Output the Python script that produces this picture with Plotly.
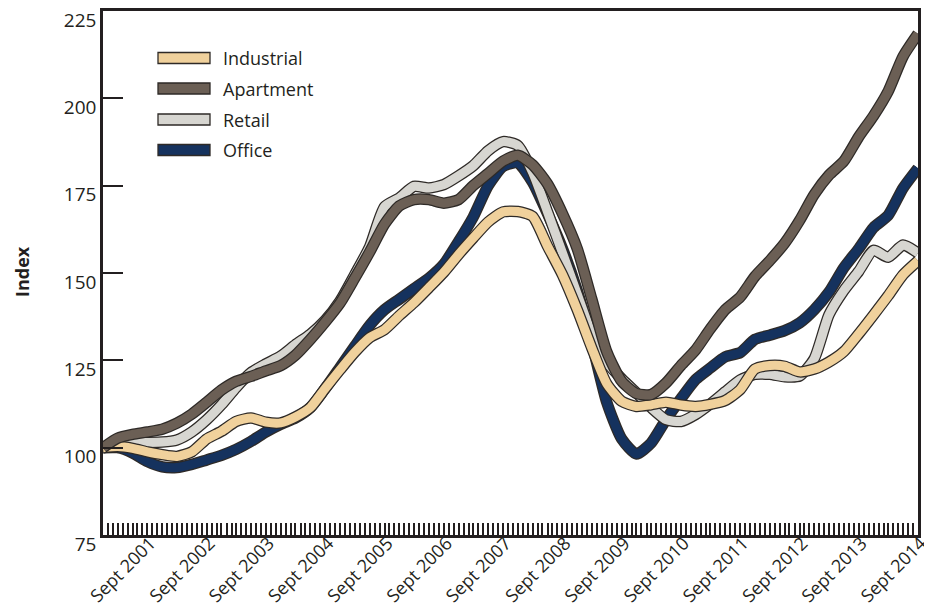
import pandas as pd
import plotly.graph_objects as go

# Quarterly observations, Dec 2000 .. Sept 2014
dates = pd.date_range("2000-12-01", periods=56, freq="3MS")

industrial = [100, 100.3, 99.8, 98.8, 98, 97.5, 98.8, 102.5, 104.7, 107.5, 108.5, 107.3, 107.1, 108.8,
              111.5, 117, 122.3, 127.3, 131.5, 133.8, 137.8, 141.5, 145.8, 150.2, 155.3, 160, 164.6, 167.5,
              167.6, 166.2, 157.7, 149.5, 139.5, 128.5, 118.3, 113.3, 111.8, 112.3, 113, 112.2, 111.8, 112.4,
              113.5, 116.6, 122.5, 123.5, 123.3, 121.7, 122.5, 124.5, 127.5, 132.6, 138, 143.5, 149.5, 153.5]
apartment = [100, 102.7, 103.8, 104.5, 105.3, 107, 109.6, 113, 116.5, 119, 120.4, 122, 123.5, 126.5,
             131, 136, 141.4, 148.5, 156, 164, 169.2, 171, 171, 170, 171, 175, 178.5, 182,
             183.7, 181, 175.5, 167, 157, 142.5, 127.5, 119, 115.5, 115.2, 118.5, 123.5, 128, 134,
             139.5, 143.1, 149, 153.5, 158.5, 165, 172.5, 178, 182, 189, 195, 202, 212, 218.5]
retail = [100, 101, 101.5, 101.5, 101.6, 102.2, 104.5, 108, 112.3, 117.2, 121.5, 124, 126.2, 129.5,
          132.5, 136.5, 142, 149.5, 157.5, 169, 171.5, 174.8, 174.3, 175.3, 177.8, 180.7, 185, 187.6,
          186.5, 178.8, 167.5, 155.8, 144, 132.5, 124.5, 119.7, 115.7, 111.5, 108, 107.5, 109.5, 112.5,
          116, 119.4, 121, 121, 120.3, 120.5, 125.5, 138, 145, 150.5, 156.5, 154.5, 158, 155.7]
office = [100, 100, 98.5, 96, 94.5, 94.3, 95.2, 96.5, 97.8, 99.5, 101.8, 104.5, 106.7, 108.5,
          111.5, 117, 123, 129, 135, 139.5, 142.5, 145.5, 148.5, 152.5, 159, 166, 175, 180.5,
          181.5, 176, 167, 157, 145, 130, 113, 102.5, 98.2, 101.3, 108, 114, 119.5, 122.8,
          126, 127.2, 131, 132.2, 133.5, 135.7, 139.5, 144.5, 151.5, 157, 163, 166.5, 174.3, 180]

series_names = ["Industrial", "Apartment", "Retail", "Office"]
series_colors = ["#F0D19C", "#6B5F55", "#D7D6D1", "#15325E"]
series_values = [industrial, apartment, retail, office]
draw_order = ["Office", "Retail", "Industrial", "Apartment"]

tick_dates = pd.date_range("2001-09-01", periods=14, freq="12MS")
tick_labels = [f"Sept {d.year}" for d in tick_dates]
y_ticks = [75, 100, 125, 150, 175, 200, 225]

OUTLINE = "#2E2A27"
INK = "#231F20"
FONT = "Open Sans"

fig = go.Figure()
lookup = {n: (c, v) for n, c, v in zip(series_names, series_colors, series_values)}
for name in draw_order:
    color, vals = lookup[name]
    fig.add_trace(go.Scatter(x=dates, y=vals, mode="lines", showlegend=False, hoverinfo="skip",
                             line=dict(color=OUTLINE, width=11.5, shape="spline", smoothing=0.6)))
    fig.add_trace(go.Scatter(x=dates, y=vals, mode="lines", name=name, showlegend=False,
                             line=dict(color=color, width=9, shape="spline", smoothing=0.6)))

# page geometry (the page body has an 8px margin around the figure)
OFF = 8
W, H = 932 - OFF, 615 - OFF
L, R, T, B = 103, 918, 11, 535          # plot area in page pixels
def px(X):
    return (X - L) / (R - L)
def py(Y):
    return (B - Y) / (B - T)

shapes = []
annotations = []
leg_y = [58, 88.5, 119.5, 150]
for name, yy in zip(series_names, leg_y):
    color = lookup[name][0]
    shapes.append(dict(type="rect", xref="paper", yref="paper", x0=px(158), x1=px(210),
                       y0=py(yy + 5.5), y1=py(yy - 5.5), fillcolor=color,
                       line=dict(color=OUTLINE, width=1.3), layer="above"))
    annotations.append(dict(xref="paper", yref="paper", x=px(221), y=py(yy), text=name,
                            showarrow=False, xanchor="left", yanchor="middle",
                            font=dict(family=FONT, size=18, color=INK)))
annotations.append(dict(xref="paper", yref="paper", x=px(22), y=py(272), text="<b>Index</b>",
                        textangle=-90, showarrow=False, xanchor="center", yanchor="middle",
                        font=dict(family=FONT, size=18, color=INK)))

fig.update_layout(
    width=W, height=H,
    margin=dict(l=L - OFF, r=W - (R - OFF), t=T - OFF, b=H - (B - OFF)),
    paper_bgcolor="white", plot_bgcolor="white",
    font=dict(family=FONT, color=INK),
    shapes=shapes, annotations=annotations,
    xaxis=dict(type="date", range=["2000-12-01", "2014-09-01"], automargin=False,
               tickvals=list(tick_dates), ticktext=tick_labels, tickangle=-45,
               ticks="inside", ticklen=12, tickwidth=1.5, tickcolor=INK,
               ticklabelstandoff=-12, ticklabelshift=3, ticklabeloverflow="allow",
               minor=dict(dtick="M1", tick0="2000-12-01", ticks="inside", ticklen=12,
                          tickwidth=1.5, tickcolor=INK, showgrid=False),
               showline=True, linecolor=INK, linewidth=2.5, mirror=True,
               showgrid=False, zeroline=False, tickfont=dict(size=18, family=FONT)),
    yaxis=dict(range=[75, 225], tickvals=y_ticks, ticks="inside", ticklen=20, tickwidth=2,
               tickcolor=INK, showline=True, linecolor=INK, linewidth=2.5, automargin=False,
               mirror=True, showgrid=False, zeroline=False, ticklabelshift=9,
               ticklabeloverflow="allow",
               tickfont=dict(size=19, family=FONT)),
)

fig.write_html("out.html")
